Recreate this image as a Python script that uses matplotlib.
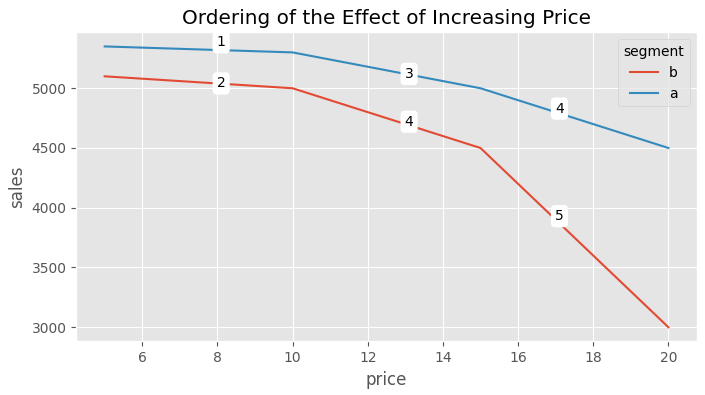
import matplotlib
matplotlib.use("Agg")
import matplotlib.pyplot as plt

plt.style.use("ggplot")

price = [5, 10, 15, 20]
sales_b = [5100, 5000, 4500, 3000]
sales_a = [5350, 5300, 5000, 4500]

label_text = ["1", "2", "3", "4", "4", "5"]
label_x = [8.1, 8.1, 13.1, 13.1, 17.1, 17.1]
label_y = [5385, 5040, 5120, 4720, 4830, 3930]

fig = plt.figure(figsize=(7.05, 3.95), dpi=100)
ax = fig.add_axes([0.1085, 0.136, 0.8796, 0.782])
ax.plot(price, sales_b, color="#E24A33", label="b")
ax.plot(price, sales_a, color="#348ABD", label="a")

for t, x, y in zip(label_text, label_x, label_y):
    ax.text(x, y, t, ha="center", va="center", fontsize=10, color="black",
            bbox=dict(boxstyle="round,pad=0.3", fc="white", ec="none"))

ax.set_xlim(4.25, 20.75)
ax.set_ylim(2882.5, 5467.5)
ax.set_xticks([6, 8, 10, 12, 14, 16, 18, 20])
ax.set_yticks([3000, 3500, 4000, 4500, 5000])
ax.set_xlabel("price")
ax.set_ylabel("sales")
ax.set_title("Ordering of the Effect of Increasing Price")
ax.legend(title="segment", loc="upper right")

fig.savefig("out.png", dpi=100)
